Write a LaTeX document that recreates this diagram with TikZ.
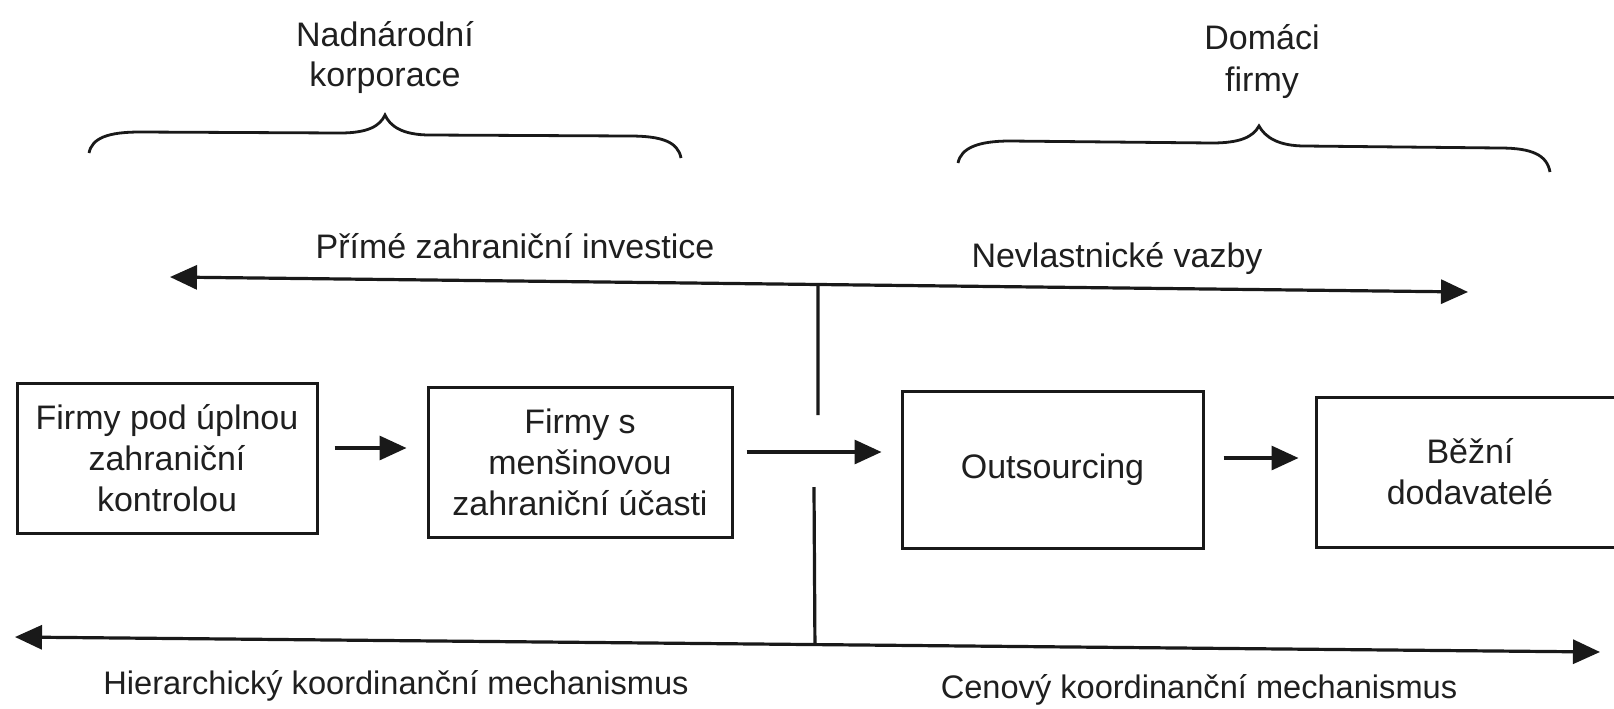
\documentclass[tikz,border=0pt]{standalone}
\usepackage{fontspec}
\setmainfont{Liberation Sans}
\usetikzlibrary{arrows.meta,calc}
\tikzset{
  lbl/.style={inner sep=0pt, font=\fontsize{17}{20.5}\selectfont, text=black!88},
  lblsm/.style={inner sep=0pt, font=\fontsize{16.3}{20}\selectfont, text=black!88},
  box/.style={draw=black!90, line width=1.5pt, inner sep=0pt, align=center,
              font=\fontsize{17}{20.5}\selectfont, text=black!88},
  arr/.style={line width=1.6pt, draw=black!90, -{Triangle[length=13.5pt,width=12pt]}},
  darr/.style={line width=1.6pt, draw=black!90, {Triangle[length=13.5pt,width=12pt]}-{Triangle[length=13.5pt,width=12pt]}},
  plain/.style={line width=1.6pt, draw=black!90},
  brace/.style={line width=1.4pt, draw=black!90}
}
\begin{document}
\begin{tikzpicture}[x=0.5pt,y=-0.5pt]
\useasboundingbox (0,0) rectangle (1614,708);
\clip (0,0) rectangle (1614,708);
\fill[white] (0,0) rectangle (1614,708);

% top labels
\node[lbl, anchor=base] (nad1) at (385,46) {Nadnárodní};
\node[lbl, anchor=base] (nad2) at (385,86) {korporace};
\node[lbl, anchor=base] (dom1) at (1262,49) {Domáci};
\node[lbl, anchor=base] (dom2) at (1262,91) {firmy};

% braces
\draw[brace] (89,153) .. controls (92,138) and (108,132) .. (140,132)
  -- (340,133) .. controls (368,133) and (380,126) .. (385,115)
  .. controls (390,126) and (402,135) .. (430,135)
  -- (630,136) .. controls (662,136) and (678,142) .. (681,158);
\draw[brace] (958,163) .. controls (961,148) and (978,141) .. (1010,141)
  -- (1212,143) .. controls (1240,143) and (1253,137) .. (1259,126)
  .. controls (1265,137) and (1278,146) .. (1305,146)
  -- (1500,148) .. controls (1532,148) and (1547,155) .. (1550,172);

% arrow labels
\node[lbl, anchor=base] (pzi) at (515,258) {Přímé zahraniční investice};
\node[lbl, anchor=base] (nev) at (1117,267) {Nevlastnické vazby};
\node[lblsm, anchor=base] (hie) at (396,694) {Hierarchický koordinanční mechanismus};
\node[lblsm, anchor=base] (cen) at (1199,698) {Cenový koordinanční mechanismus};

% long arrows
\coordinate (tl) at (170,277);
\coordinate (tr) at (1468,292);
\coordinate (bl) at (15,637);
\coordinate (br) at (1600,652);
\draw[darr] (tl) -- (tr);
\draw[darr] (bl) -- (br);
\coordinate (tj) at ($(tl)!0.4992!(tr)$);
\coordinate (bj) at ($(bl)!0.5047!(br)$);
\coordinate (tgap) at (818,415);
\coordinate (bgap) at (814,487);
\draw[plain] (tj) -- (tgap);
\draw[plain] (bgap) -- (bj);

% boxes
\node[box, minimum width=150pt, minimum height=75pt] (b1) at (167,458)
  {Firmy pod úplnou\\zahraniční\\kontrolou};
\node[box, minimum width=152pt, minimum height=75pt] (b2) at (580,462)
  {Firmy s\\menšinovou\\zahraniční účasti};
\node[box, minimum width=150.5pt, minimum height=78.5pt] (b3) at (1052.5,469.5)
  {Outsourcing};
\node[box, minimum width=154pt, minimum height=75pt] (b4) at (1470,472)
  {Běžní\\dodavatelé};

% short arrows
\draw[arr] ([xshift=8pt,yshift=5pt]b1.east) -- ([xshift=-10pt,yshift=7pt]b2.west);
\draw[arr] ([xshift=6.5pt,yshift=5pt]b2.east) -- ([xshift=-9.5pt,yshift=8.75pt]b3.west);
\draw[arr] ([xshift=9.5pt,yshift=5.75pt]b3.east) -- ([xshift=-8pt,yshift=7pt]b4.west);
\end{tikzpicture}
\end{document}
